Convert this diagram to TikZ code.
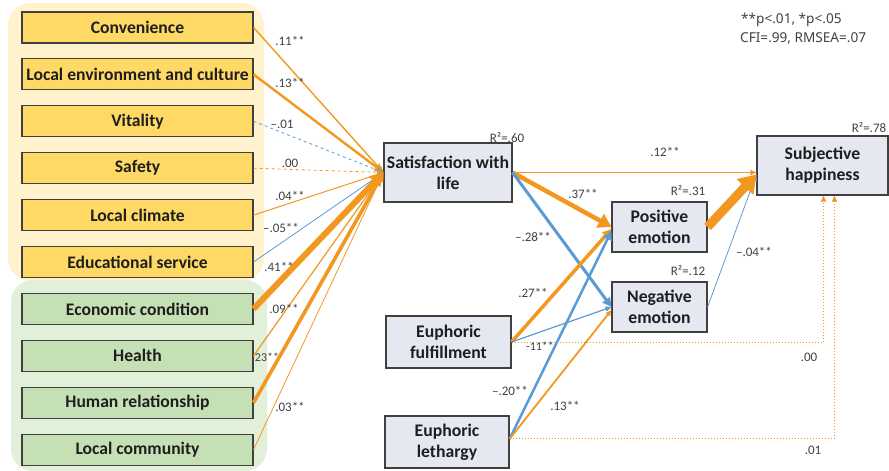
\documentclass[tikz,border=0pt]{standalone}
\usepackage{fontspec}
\setmainfont{Carlito}
\newfontfamily\notefont{Noto Sans}
\usetikzlibrary{arrows.meta}
\definecolor{orng}{RGB}{242,152,33}
\definecolor{blu}{RGB}{91,155,213}
\definecolor{yfill}{RGB}{255,217,102}
\definecolor{ybg}{RGB}{255,242,204}
\definecolor{gfill}{RGB}{197,224,180}
\definecolor{gbg}{RGB}{226,240,217}
\definecolor{vfill}{RGB}{230,232,241}
\definecolor{bord}{RGB}{64,64,64}
\definecolor{txt}{RGB}{30,30,30}
\definecolor{labc}{RGB}{64,64,64}
\tikzset{
  lbox/.style={draw=bord, line width=1.1pt, minimum width=231pt, minimum height=31pt, inner sep=0pt,
    font=\fontsize{17.6}{20}\selectfont\bfseries, text=txt},
  ybox/.style={lbox, fill=yfill},
  gbox/.style={lbox, fill=gfill},
  vbox/.style={draw=bord, line width=1.1pt, fill=vfill, align=center, inner sep=0pt,
    font=\fontsize{17.7}{21}\selectfont\bfseries, text=txt},
  coef/.style={font=\fontsize{13}{15}\selectfont, text=labc, inner sep=0pt},
  note/.style={font=\notefont\fontsize{13.6}{16}\selectfont, text=labc, inner sep=0pt, anchor=west},
  tipS/.style={-{Triangle[length=6pt,width=5pt]}},
  tipM/.style={-{Triangle[length=9pt,width=9pt]}},
  tipL/.style={-{Triangle[length=13pt,width=15pt]}},
  tipXL/.style={-{Triangle[length=17pt,width=22pt]}},
  oline/.style={draw=orng},
  bline/.style={draw=blu},
}
\begin{document}
\begin{tikzpicture}[x=1pt,y=-1pt]
\useasboundingbox (0,0) rectangle (889,471);
% backgrounds
\fill[ybg, rounded corners=22pt] (8,3) rectangle (264,281);
\fill[gbg, rounded corners=22pt] (11,280) rectangle (267,471);
% left boxes
\node[ybox] (cv)  at (137.5,27.5)  {Convenience};
\node[ybox] (le)  at (137.5,74.4)  {Local environment and culture};
\node[ybox] (vi)  at (137.5,121.3) {Vitality};
\node[ybox] (sa)  at (137.5,168.2) {Safety};
\node[ybox] (lc)  at (137.5,215.1) {Local climate};
\node[ybox] (es)  at (137.5,262.0) {Educational service};
\node[gbox] (ec)  at (137.5,308.9) {Economic condition};
\node[gbox] (he)  at (137.5,355.8) {Health};
\node[gbox] (hr)  at (137.5,402.7) {Human relationship};
\node[gbox] (lco) at (137.5,449.6) {Local community};
% gray boxes
\node[vbox, minimum width=128pt, minimum height=59pt] (sat) at (448,172.5) {Satisfaction with\\life};
\node[vbox, minimum width=95pt, minimum height=50pt] (pos) at (659.5,227) {Positive\\emotion};
\node[vbox, minimum width=95pt, minimum height=50pt] (neg) at (659.5,307) {Negative\\emotion};
\node[vbox, minimum width=131pt, minimum height=59pt] (subj) at (822.5,165.5) {Subjective\\happiness};
\node[vbox, minimum width=125pt, minimum height=52pt] (ful) at (448.5,342) {Euphoric\\fulfillment};
\node[vbox, minimum width=124pt, minimum height=52pt] (let) at (447,442) {Euphoric\\lethargy};
% left arrows
\draw[oline, line width=1.4pt, tipS] (cv.east) -- (sat.west);
\draw[oline, line width=2.4pt, tipM] (le.east) -- (sat.west);
\draw[bline, line width=0.8pt, dashed, tipS] (vi.east) -- (sat.west);
\draw[oline, line width=0.8pt, dashed, tipS] (sa.east) -- (sat.west);
\draw[oline, line width=1pt, tipS] (lc.east) -- (sat.west);
\draw[bline, line width=0.8pt, tipS] (es.east) -- (sat.west);
\draw[oline, line width=1.2pt, tipS] (he.east) -- (sat.west);
\draw[oline, line width=0.8pt, tipS] (lco.east) -- (sat.west);
\draw[oline, line width=3.6pt, tipM] (hr.east) -- (sat.west);
\draw[oline, line width=6pt, tipL] (ec.east) -- (sat.west);
% middle arrows
\draw[oline, line width=1.5pt, tipS] (sat.east) -- (sat.east -| subj.west);
\draw[oline, line width=4.5pt, tipL] (sat.east) -- (pos.west);
\draw[bline, line width=3pt, tipM] (sat.east) -- (neg.west);
\draw[oline, line width=3.5pt, tipM] (ful.east) -- ([yshift=-2pt]pos.west);
\draw[bline, line width=1.2pt, tipS] (ful.east) -- (neg.west);
\draw[bline, line width=2.5pt, tipM] ([yshift=3pt]let.east) -- ([yshift=-4pt]pos.west);
\draw[oline, line width=1.8pt, tipS] ([yshift=3pt]let.east) -- ([yshift=-3pt]neg.west);
\draw[bline, line width=0.8pt, tipS] (neg.east) -- ([yshift=-9pt]subj.west);
\draw[oline, line width=9pt, tipXL] (pos.east) -- ([yshift=-9pt]subj.west);
\draw[oline, line width=1pt, dotted, tipS] (ful.east) -| ([xshift=1pt]subj.south);
\draw[oline, line width=1pt, dotted, tipS] ([yshift=4pt]let.east) -| ([xshift=12pt]subj.south);
% coefficient labels
\node[coef] (k1) at (290,41) {.11**};
\node[coef] (k2) at (290,83) {.13**};
\node[coef] (k3) at (282,124) {–.01};
\node[coef] (k4) at (290,163) {.00};
\node[coef] (k5) at (290,196) {.04**};
\node[coef] (k6) at (281,228) {–.05**};
\node[coef] (k7) at (279,267) {.41**};
\node[coef] (k8) at (284,309) {.09**};
\node[coef, font=\fontsize{12}{14}\selectfont] (k9) at (267,357) {23**};
\node[coef] (k10) at (290,407) {.03**};
\node[coef] (r60) at (507,138) {R²=.60};
\node[coef] (k11) at (665,152) {.12**};
\node[coef] (k12) at (583,194) {.37**};
\node[coef] (k13) at (533,237) {–.28**};
\node[coef] (k14) at (533,293) {.27**};
\node[coef] (r31) at (688,191) {R²=.31};
\node[coef] (r12) at (688,271) {R²=.12};
\node[coef] (k15) at (754,252) {–.04**};
\node[coef] (r78) at (869,128) {R²=.78};
\node[coef, font=\fontsize{12}{14}\selectfont] (k16) at (540,346) {-11**};
\node[coef] (k17) at (510,391) {–.20**};
\node[coef] (k18) at (565,406) {.13**};
\node[coef] (k19) at (809,357) {.00};
\node[coef] (k20) at (813,450) {.01};
\node[note] (n1) at (741,20) {**p<.01, *p<.05};
\node[note] (n2) at (740,38) {CFI=.99, RMSEA=.07};
\end{tikzpicture}
\end{document}
